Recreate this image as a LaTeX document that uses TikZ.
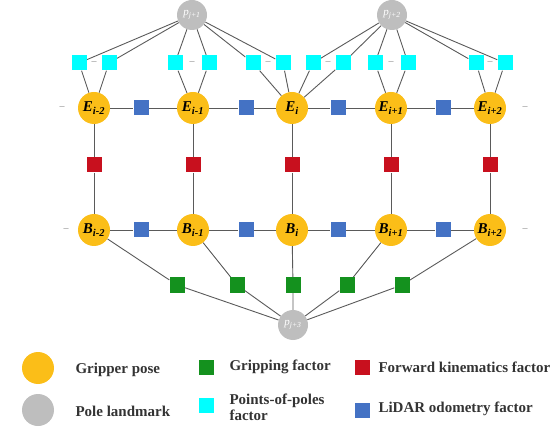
\documentclass[tikz,border=0pt]{standalone}
\usepackage{fontspec}
\setmainfont{Liberation Serif}
\usetikzlibrary{backgrounds}
\definecolor{gold}{RGB}{251,190,24}
\definecolor{polegray}{RGB}{190,190,190}
\definecolor{cyanf}{RGB}{0,255,255}
\definecolor{bluef}{RGB}{68,114,196}
\definecolor{redf}{RGB}{200,16,30}
\definecolor{greenf}{RGB}{20,145,30}
\definecolor{linec}{RGB}{90,90,90}
\tikzset{
  pose/.style={circle,fill=gold,minimum size=32pt,inner sep=0pt,font=\fontsize{15}{15}\selectfont\bfseries\itshape},
  pole/.style={circle,fill=polegray,minimum size=30pt,inner sep=0pt,text=white,font=\fontsize{11}{11}\selectfont\itshape},
  fac/.style={rectangle,minimum size=15pt,inner sep=0pt},
  cyanbox/.style={fac,fill=cyanf},
  bluebox/.style={fac,fill=bluef},
  redbox/.style={fac,fill=redf},
  greenbox/.style={fac,fill=greenf},
  conn/.style={draw=linec,line width=0.9pt},
  dots/.style={text=gray,font=\fontsize{10}{10}\selectfont},
  legtext/.style={anchor=west,font=\fontsize{15}{16}\selectfont\bfseries,text=black!80,align=left},
}
\newcommand{\pl}[2]{#1\textsubscript{#2}}
\begin{document}
\begin{tikzpicture}[x=1pt,y=-1pt]
\useasboundingbox (0,0) rectangle (556,427);
% poles
\node[pole] (p1) at (192,15) {\pl{p}{j+1}};
\node[pole] (p2) at (392,15) {\pl{p}{j+2}};
\node[pole] (p3) at (293,325) {\pl{p}{j+3}};
% cyan
\foreach \n/\x in {c1a/79,c1b/109,c2a/175,c2b/209,c3a/253,c3b/283,c4a/313,c4b/343,c5a/375,c5b/408,c6a/476,c6b/505}
  \node[cyanbox] (\n) at (\x,63) {};
\foreach \n/\x in {d1/94,d2/192,d3/268,d4/328,d5/391,d6/490}
  \node[dots] (\n) at (\x,63) {--};
% E row
\node[pose] (E1) at (94,108) {\pl{E}{i-2}};
\node[pose] (E2) at (193,108) {\pl{E}{i-1}};
\node[pose] (E3) at (292,108) {\pl{E}{i}};
\node[pose] (E4) at (391,108) {\pl{E}{i+1}};
\node[pose] (E5) at (490,108) {\pl{E}{i+2}};
\node[dots] (el) at (62,108) {--};
\node[dots] (er) at (525,108) {--};
\foreach \n/\x in {eb1/141,eb2/246,eb3/338,eb4/443}
  \node[bluebox] (\n) at (\x,108) {};
% red
\foreach \n/\x in {r1/94,r2/193,r3/292,r4/391,r5/490}
  \node[redbox] (\n) at (\x,165) {};
% B row
\node[pose] (B1) at (94,230) {\pl{B}{i-2}};
\node[pose] (B2) at (193,230) {\pl{B}{i-1}};
\node[pose] (B3) at (292,230) {\pl{B}{i}};
\node[pose] (B4) at (391,230) {\pl{B}{i+1}};
\node[pose] (B5) at (490,230) {\pl{B}{i+2}};
\node[dots] (bl) at (66,230) {--};
\node[dots] (br) at (525,230) {--};
\foreach \n/\x in {bb1/141,bb2/246,bb3/338,bb4/443}
  \node[bluebox] (\n) at (\x,230) {};
% green
\foreach \n/\x in {g1/177,g2/237,g3/293,g4/347,g5/402}
  \node[greenbox] (\n) at (\x,285) {};
% edges
\begin{scope}[on background layer]
  \foreach \c in {c1a,c1b,c2a,c2b,c3a,c3b} \draw[conn] (p1) -- (\c);
  \foreach \c in {c4a,c4b,c5a,c5b,c6a,c6b} \draw[conn] (p2) -- (\c);
  \foreach \c/\e in {c1a/E1,c1b/E1,c2a/E2,c2b/E2,c3a/E3,c3b/E3,c4a/E3,c4b/E3,c5a/E4,c5b/E4,c6a/E5,c6b/E5}
    \draw[conn] (\c) -- (\e);
  \draw[conn] (E1) -- (eb1) -- (E2) -- (eb2) -- (E3) -- (eb3) -- (E4) -- (eb4) -- (E5);
  \draw[conn] (B1) -- (bb1) -- (B2) -- (bb2) -- (B3) -- (bb3) -- (B4) -- (bb4) -- (B5);
  \foreach \i in {1,...,5} {
    \draw[conn] (E\i) -- (r\i) -- (B\i);
    \draw[conn] (B\i) -- (g\i) -- (p3);
  }
\end{scope}
% legend
\node[pose,minimum size=32pt] (lg1) at (38,368) {};
\node[legtext] (lt1) at (72,370) {Gripper pose};
\node[pole,minimum size=32pt] (lg2) at (38,410) {};
\node[legtext] (lt2) at (72,411) {Pole landmark};
\node[greenbox] (lg3) at (206,367) {};
\node[legtext] (lt3) at (226,367) {Gripping factor};
\node[cyanbox] (lg4) at (206,405) {};
\node[legtext] (lt4) at (226,407) {Points-of-poles\\factor};
\node[redbox] (lg5) at (362,367) {};
\node[legtext] (lt5) at (375,367) {Forward kinematics factor};
\node[bluebox] (lg6) at (362,410) {};
\node[legtext] (lt6) at (375,409) {LiDAR odometry factor};
\end{tikzpicture}
\end{document}
